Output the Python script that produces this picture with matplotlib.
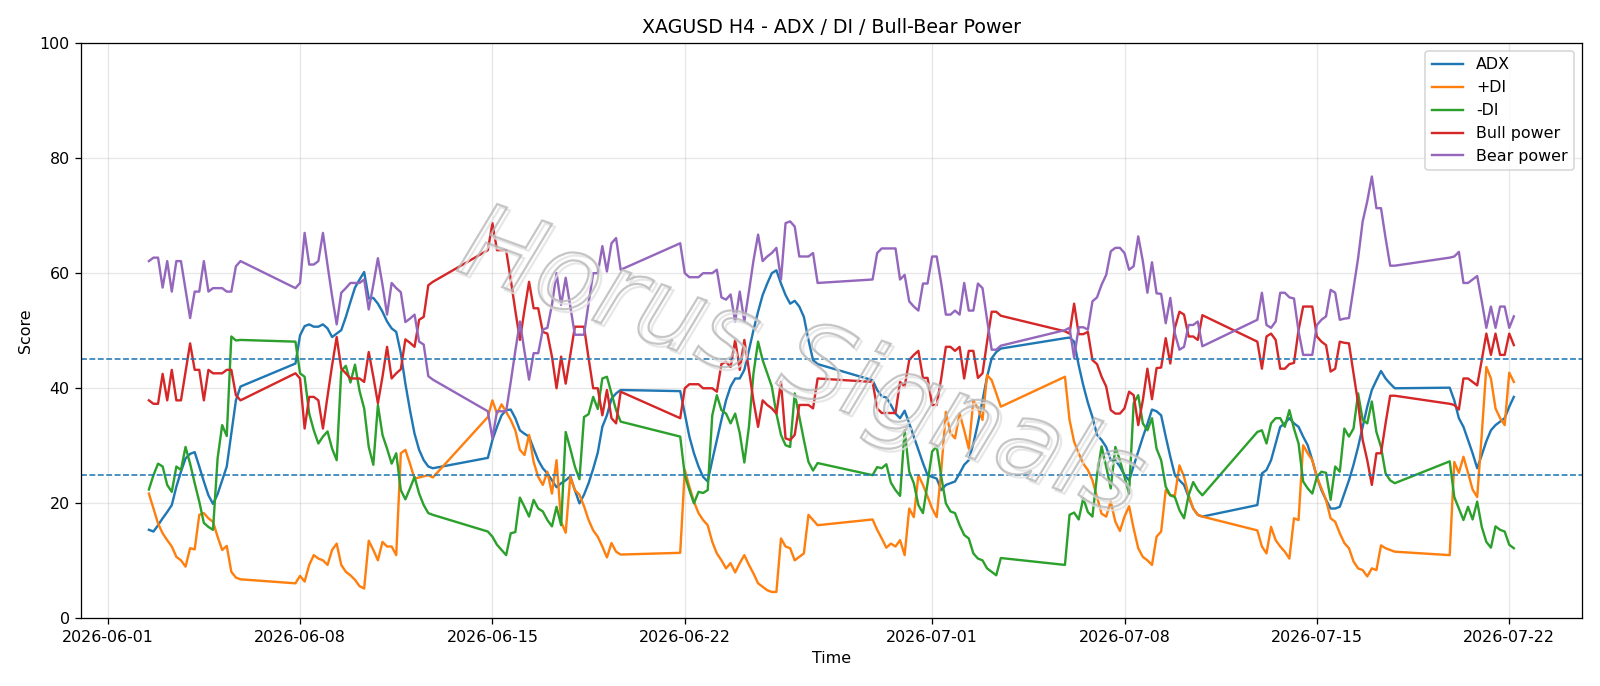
import matplotlib
matplotlib.use("Agg")
import matplotlib.pyplot as plt
import matplotlib.dates as mdates
from matplotlib.textpath import TextPath
from matplotlib.patches import PathPatch
from matplotlib.font_manager import FontProperties
from matplotlib.transforms import Affine2D
import pandas as pd

# trading sessions (4H bars), weekend gaps between them
sessions = [
    ("2026-06-02 12:00", "2026-06-05 20:00"),
    ("2026-06-07 20:00", "2026-06-12 20:00"),
    ("2026-06-14 20:00", "2026-06-19 16:00"),
    ("2026-06-21 20:00", "2026-06-26 20:00"),
    ("2026-06-28 20:00", "2026-07-03 12:00"),
    ("2026-07-05 20:00", "2026-07-10 20:00"),
    ("2026-07-12 20:00", "2026-07-17 20:00"),
    ("2026-07-19 20:00", "2026-07-22 04:00"),
]

adx = [
    15.4, 15.1, 16.2, 17.4, 18.5, 19.7, 22.9, 25.5, 27.8, 28.6, 28.9, 26.4, 23.8, 21.4, 19.9, 21.6, 24.0, 26.4, 32.1, 37.9, 40.3,
    44.3, 49.2, 50.8, 51.1, 50.7, 50.7, 51.1, 50.4, 48.9, 49.5, 50.1, 52.4, 55.0, 57.5, 58.9, 60.2, 55.6, 55.7, 54.7, 53.3, 51.6, 50.4, 49.8, 46.1, 40.8, 36.2, 32.1, 29.3, 27.5, 26.4, 26.1,
    27.9, 31.0, 33.3, 35.3, 36.2, 36.3, 34.8, 32.7, 32.1, 31.6, 29.5, 27.5, 26.1, 25.2, 24.0, 22.8, 23.5, 24.0, 24.7, 22.3, 20.0, 21.5, 23.5, 26.0, 28.8, 33.3, 35.3, 38.2, 39.1, 39.7,
    39.5, 35.6, 31.6, 28.7, 26.4, 24.6, 23.8, 27.5, 31.0, 34.5, 37.9, 40.3, 41.7, 41.7, 43.2, 46.6, 50.1, 53.3, 56.2, 58.2, 60.0, 60.5, 58.2, 56.2, 54.7, 55.2, 54.2, 52.4, 48.4, 44.9, 44.2,
    41.4, 39.7, 38.6, 38.4, 37.1, 35.6, 34.8, 36.1, 33.9, 31.6, 29.3, 27.0, 24.9, 24.6, 24.3, 22.3, 23.2, 23.5, 23.8, 25.2, 26.7, 27.5, 30.4, 33.9, 37.9, 42.0, 45.2, 46.3, 46.9,
    48.7, 48.8, 48.1, 44.0, 40.5, 37.5, 35.0, 31.9, 31.0, 29.8, 27.5, 27.5, 26.4, 24.9, 24.0, 26.5, 29.0, 31.5, 33.8, 36.3, 36.0, 35.3, 31.6, 28.1, 24.9, 24.0, 23.2, 21.1, 19.1, 18.0, 17.7,
    19.7, 25.2, 25.8, 27.5, 30.4, 33.3, 33.9, 34.8, 33.9, 33.3, 31.6, 30.1, 27.5, 24.6, 22.3, 20.6, 19.1, 19.1, 19.4, 21.7, 24.0, 26.7, 29.8, 33.3, 36.8, 39.7, 41.4, 43.0, 41.7, 40.8, 40.0,
    40.1, 37.9, 34.8, 33.3, 31.0, 28.7, 26.1, 28.4, 30.8, 32.7, 33.6, 34.2, 34.8, 36.8, 38.5,
]

plus_di = [
    21.7, 19.1, 16.5, 14.8, 13.6, 12.5, 10.7, 10.1, 9.0, 12.2, 12.0, 18.0, 18.3, 17.4, 16.8, 14.2, 11.9, 12.6, 8.1, 7.1, 6.8,
    6.1, 7.4, 6.4, 9.3, 11.0, 10.4, 10.1, 9.3, 11.9, 13.0, 9.3, 8.1, 7.5, 6.7, 5.6, 5.2, 13.5, 11.9, 10.1, 13.3, 12.5, 12.5, 11.0, 28.7, 29.3, 26.9, 24.3, 24.5, 24.7, 24.9, 24.5,
    35.0, 37.9, 35.6, 37.2, 35.9, 34.5, 32.7, 29.3, 28.4, 31.9, 27.2, 24.6, 23.2, 25.5, 21.7, 27.5, 16.8, 14.9, 24.6, 22.3, 21.5, 19.5, 17.1, 15.3, 14.2, 12.5, 10.6, 13.1, 11.6, 11.1,
    11.4, 25.8, 22.9, 20.3, 18.3, 17.1, 16.2, 13.3, 11.3, 10.1, 8.7, 9.6, 8.0, 9.6, 11.0, 9.3, 7.8, 6.1, 5.5, 4.9, 4.6, 4.6, 13.9, 12.5, 12.2, 10.1, 10.7, 11.3, 18.0, 17.1, 16.2,
    17.2, 15.4, 13.9, 12.3, 13.0, 12.5, 13.6, 11.0, 19.1, 17.6, 24.9, 23.2, 21.2, 19.1, 17.6, 25.8, 35.9, 32.2, 31.3, 35.6, 32.7, 29.5, 37.9, 36.5, 34.5, 42.3, 41.4, 39.1, 36.8,
    42.0, 34.5, 30.7, 28.7, 26.9, 25.8, 24.0, 21.1, 18.2, 17.7, 20.3, 16.8, 15.2, 17.7, 19.5, 15.6, 12.2, 10.7, 10.1, 9.3, 14.2, 15.1, 22.3, 21.4, 21.4, 26.6, 24.6, 21.4, 19.1, 18.0, 17.7,
    15.3, 12.5, 11.3, 15.9, 13.6, 12.5, 11.6, 10.4, 17.4, 17.1, 30.1, 28.7, 27.5, 24.6, 22.6, 20.6, 17.4, 16.8, 14.8, 13.1, 12.2, 9.9, 8.7, 8.4, 7.3, 8.7, 8.4, 12.7, 12.2, 11.9, 11.6,
    11.0, 27.2, 25.3, 28.1, 25.3, 22.4, 21.1, 32.0, 43.7, 41.7, 36.5, 34.8, 33.6, 42.7, 41.1,
]

minus_di = [
    22.4, 24.9, 26.9, 26.4, 23.2, 22.0, 26.4, 25.8, 29.8, 26.9, 23.5, 20.3, 16.6, 15.9, 15.4, 27.8, 33.6, 31.7, 49.0, 48.3, 48.4,
    48.1, 42.6, 42.0, 35.6, 32.7, 30.4, 31.6, 32.5, 29.5, 27.5, 43.0, 43.9, 41.0, 44.1, 39.5, 36.5, 29.8, 26.7, 37.1, 31.9, 29.5, 26.9, 28.7, 22.3, 20.7, 22.6, 24.6, 21.7, 19.7, 18.3, 18.0,
    15.1, 14.2, 12.8, 11.9, 11.0, 14.8, 15.0, 21.0, 19.4, 17.7, 20.6, 19.1, 18.6, 17.1, 16.0, 19.4, 16.2, 32.4, 29.5, 26.4, 24.2, 35.0, 35.5, 38.5, 36.4, 41.7, 42.0, 39.1, 36.2, 34.2,
    31.6, 24.9, 22.3, 20.0, 22.0, 21.8, 22.3, 35.3, 38.8, 36.2, 35.6, 33.9, 35.6, 32.2, 27.1, 33.3, 42.6, 48.1, 44.9, 42.6, 40.3, 35.6, 31.9, 30.1, 29.8, 39.1, 35.0, 31.0, 27.2, 25.7, 27.0,
    24.9, 26.3, 26.1, 26.8, 23.6, 22.3, 21.3, 32.7, 25.5, 23.5, 19.7, 18.3, 23.5, 29.0, 29.9, 24.6, 20.0, 18.6, 18.3, 16.2, 14.5, 13.9, 11.3, 10.4, 10.1, 8.7, 8.1, 7.5, 10.5,
    9.3, 18.0, 18.4, 17.2, 20.9, 18.5, 17.7, 24.9, 29.9, 26.4, 22.6, 29.8, 27.5, 24.6, 21.7, 37.4, 38.8, 33.9, 32.7, 34.8, 29.5, 27.5, 22.9, 21.4, 21.1, 18.8, 17.4, 21.4, 23.7, 22.3, 21.4,
    32.4, 32.7, 30.4, 33.9, 34.8, 34.8, 33.3, 36.2, 33.0, 30.4, 23.8, 22.6, 21.7, 24.6, 25.5, 25.3, 20.6, 26.4, 25.5, 33.0, 31.6, 33.0, 39.1, 34.5, 33.9, 37.7, 32.4, 29.8, 25.2, 24.0, 23.5,
    27.3, 21.1, 19.1, 17.1, 19.4, 17.2, 20.3, 15.9, 13.3, 12.3, 16.0, 15.4, 15.1, 12.8, 12.2,
]

bull = [
    37.9, 37.3, 37.3, 42.5, 37.9, 43.2, 37.9, 37.9, 42.9, 47.8, 43.2, 43.2, 37.9, 43.2, 42.6, 42.6, 42.6, 43.2, 43.2, 38.8, 37.9,
    42.6, 41.7, 33.0, 38.5, 38.5, 37.9, 33.0, 38.6, 44.0, 48.9, 43.4, 42.6, 41.7, 41.7, 41.7, 41.1, 46.3, 42.0, 37.4, 42.0, 47.2, 41.7, 42.6, 43.3, 48.5, 47.9, 47.2, 51.9, 52.4, 57.9, 58.5,
    64.0, 68.7, 64.0, 64.0, 64.0, 58.9, 53.5, 48.4, 53.6, 58.5, 53.9, 53.9, 49.8, 49.5, 45.5, 40.0, 45.5, 40.8, 45.8, 50.7, 50.7, 50.7, 45.2, 40.0, 40.0, 35.3, 39.7, 34.8, 33.9, 39.4,
    34.8, 40.0, 40.7, 40.7, 40.7, 40.0, 40.0, 40.0, 39.4, 44.2, 44.6, 43.7, 48.4, 43.2, 48.4, 43.2, 37.8, 33.3, 37.9, 37.1, 36.5, 35.6, 41.1, 31.3, 31.0, 31.9, 37.1, 37.1, 37.1, 36.5, 41.7,
    41.1, 36.5, 35.7, 35.7, 35.7, 35.7, 41.1, 40.3, 44.9, 45.8, 46.5, 41.8, 41.8, 37.1, 37.1, 41.8, 47.2, 47.2, 46.5, 47.2, 41.7, 46.5, 46.5, 41.8, 42.6, 48.1, 53.3, 53.3, 52.6,
    49.9, 49.5, 54.7, 49.4, 49.4, 49.8, 44.9, 44.2, 42.0, 40.3, 36.2, 35.6, 35.6, 36.5, 39.4, 38.8, 33.6, 37.9, 43.4, 38.1, 43.5, 43.6, 48.7, 44.3, 50.5, 53.3, 52.8, 49.0, 49.0, 48.4, 52.7,
    48.1, 43.4, 49.0, 49.5, 48.4, 43.4, 43.4, 44.2, 44.4, 50.1, 54.2, 54.2, 54.2, 49.0, 48.1, 47.5, 42.9, 43.4, 48.1, 47.9, 47.8, 42.6, 37.4, 31.0, 27.5, 23.2, 28.7, 28.7, 33.9, 38.7, 38.7,
    37.3, 37.1, 36.3, 41.7, 41.7, 41.1, 40.5, 44.9, 49.5, 45.8, 49.5, 45.8, 45.8, 49.5, 47.5,
]

bear = [
    62.1, 62.7, 62.7, 57.5, 62.1, 56.8, 62.1, 62.1, 57.1, 52.2, 56.8, 56.8, 62.1, 56.8, 57.4, 57.4, 57.4, 56.8, 56.8, 61.2, 62.1,
    57.4, 58.3, 67.0, 61.5, 61.5, 62.1, 67.0, 61.4, 56.0, 51.1, 56.6, 57.4, 58.3, 58.3, 58.3, 58.9, 53.7, 58.0, 62.6, 58.0, 52.8, 58.3, 57.4, 56.7, 51.5, 52.1, 52.8, 48.1, 47.6, 42.1, 41.5,
    36.0, 31.3, 36.0, 36.0, 36.0, 41.1, 46.5, 51.6, 46.4, 41.5, 46.1, 46.1, 50.2, 50.5, 54.5, 60.0, 54.5, 59.2, 54.2, 49.3, 49.3, 49.3, 54.8, 60.0, 60.0, 64.7, 60.3, 65.2, 66.1, 60.6,
    65.2, 60.0, 59.3, 59.3, 59.3, 60.0, 60.0, 60.0, 60.6, 55.8, 55.4, 56.3, 51.6, 56.8, 51.6, 56.8, 62.2, 66.7, 62.1, 62.9, 63.5, 64.4, 58.9, 68.7, 69.0, 68.1, 62.9, 62.9, 62.9, 63.5, 58.3,
    58.9, 63.5, 64.3, 64.3, 64.3, 64.3, 58.9, 59.7, 55.1, 54.2, 53.5, 58.2, 58.2, 62.9, 62.9, 58.2, 52.8, 52.8, 53.5, 52.8, 58.3, 53.5, 53.5, 58.2, 57.4, 51.9, 46.7, 46.7, 47.4,
    50.1, 50.5, 45.3, 50.6, 50.6, 50.2, 55.1, 55.8, 58.0, 59.7, 63.8, 64.4, 64.4, 63.5, 60.6, 61.2, 66.4, 62.1, 56.6, 61.9, 56.5, 56.4, 51.3, 55.7, 49.5, 46.7, 47.2, 51.0, 51.0, 51.6, 47.3,
    51.9, 56.6, 51.0, 50.5, 51.6, 56.6, 56.6, 55.8, 55.6, 49.9, 45.8, 45.8, 45.8, 51.0, 51.9, 52.5, 57.1, 56.6, 51.9, 52.1, 52.2, 57.4, 62.6, 69.0, 72.5, 76.8, 71.3, 71.3, 66.1, 61.3, 61.3,
    62.7, 62.9, 63.7, 58.3, 58.3, 58.9, 59.5, 55.1, 50.5, 54.2, 50.5, 54.2, 54.2, 50.5, 52.5,
]

times = []
for start, end in sessions:
    times.extend(pd.date_range(start, end, freq="4h"))

DPI = 1600 / 14
fig, ax = plt.subplots(figsize=(14, 6.0025), dpi=DPI)
fig.subplots_adjust(left=0.0504, right=0.9888, top=0.9373, bottom=0.0985)

ax.plot(times, adx, label="ADX")
ax.plot(times, plus_di, label="+DI")
ax.plot(times, minus_di, label="-DI")
ax.plot(times, bull, label="Bull power")
ax.plot(times, bear, label="Bear power")

ax.axhline(45, linestyle="--", linewidth=1)
ax.axhline(25, linestyle="--", linewidth=1)

ax.set_ylim(0, 100)
ax.set_title("XAGUSD H4 - ADX / DI / Bull-Bear Power")
ax.set_xlabel("Time")
ax.set_ylabel("Score")
ax.xaxis.set_major_locator(mdates.DayLocator(bymonthday=[1, 8, 15, 22]))
ax.xaxis.set_major_formatter(mdates.DateFormatter("%Y-%m-%d"))
ax.grid(True, alpha=0.3)
ax.legend(loc="upper right")

# watermark: hollow outlined text, rotated, slightly left/below centre
tp = TextPath((0, 0), "Horus Signals", size=66 * DPI / 72,
              prop=FontProperties(family="DejaVu Sans", style="italic"))
ext = tp.get_extents()
cx, cy = (ext.x0 + ext.x1) / 2, (ext.y0 + ext.y1) / 2
px, py = ax.transAxes.transform((0.48, 0.44))
for dx, dy, col in [(3, -3, "#e2e2e2"), (0, 0, "#b8b8b8")]:
    tr = Affine2D().translate(-cx, -cy).rotate_deg(-20).translate(px + dx, py + dy)
    fig.add_artist(PathPatch(tr.transform_path(tp), transform=None,
                             facecolor="none", edgecolor=col, linewidth=1.4,
                             alpha=0.8, zorder=5))

fig.savefig("out.png", dpi=DPI)
